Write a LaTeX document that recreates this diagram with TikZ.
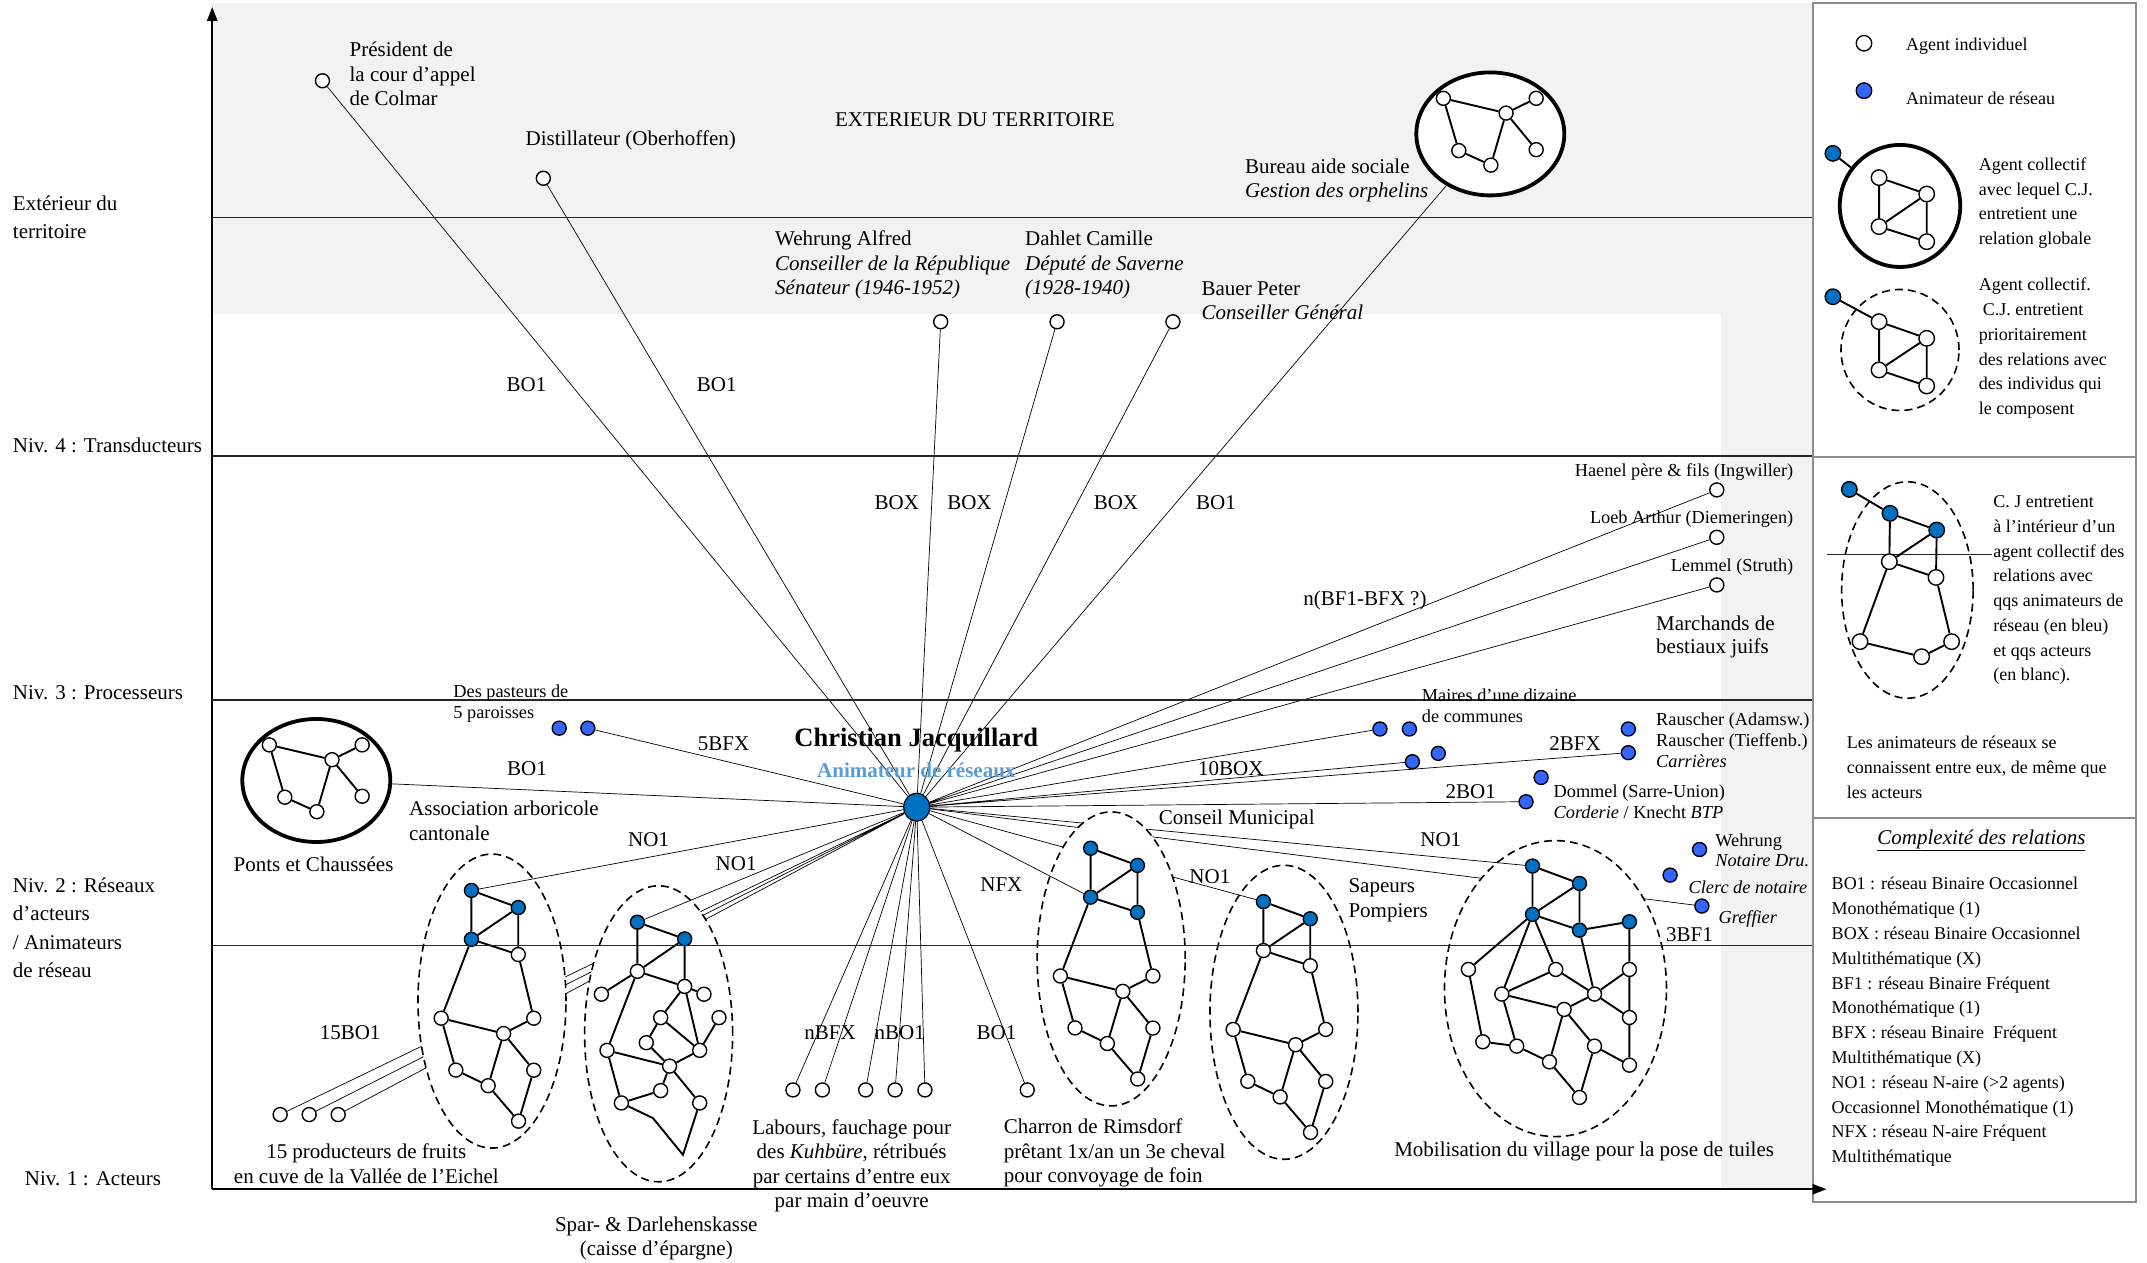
\documentclass[tikz,border=0pt]{standalone}
\usepackage{fontspec}
\setmainfont{Liberation Serif}
\usetikzlibrary{shapes.geometric, arrows.meta, positioning, calc}
\definecolor{animblue}{RGB}{0,112,192}
\definecolor{vifblue}{RGB}{51,102,255}
\definecolor{clairblue}{RGB}{91,155,213}
\definecolor{fondgris}{RGB}{242,242,242}
\definecolor{cadregris}{RGB}{140,140,140}

\tikzset{
  agent/.style={circle, draw, fill=white, line width=1.4pt, minimum size=14pt, inner sep=0pt},
  anim/.style={agent, fill=animblue},
  animvif/.style={agent, fill=vifblue},
  legsize/.style={minimum size=15.5pt},
  lien/.style={line width=0.7pt},
  arete/.style={line width=1.9pt},
  collectif/.style={ellipse, draw, fill=white, line width=1.6pt, dash pattern=on 8pt off 5pt, inner sep=0pt},
  global/.style={ellipse, draw, fill=white, line width=3.8pt, inner sep=0pt},
  niveau/.style={line width=1.1pt, black!85},
  txt/.style={font=\fontsize{21}{24.5}\selectfont, inner sep=0pt, align=left},
  ptxt/.style={font=\fontsize{18.3}{21}\selectfont, inner sep=0pt, align=left},
  leg/.style={font=\fontsize{18}{24.8}\selectfont, inner sep=0pt, align=left},
  niv/.style={font=\fontsize{21}{28.5}\selectfont, inner sep=0pt, align=left, anchor=west},
}

% reseau d'acteurs (meme dessin pour chaque collectif)
\newcommand{\reseau}[4]{%
  \begin{scope}[shift={#2}]
    \node[collectif, minimum width=148pt, minimum height=294pt] (#1) at (15,80.8) {};
    \node[anim] (#1b1) at (0,0) {};
    \node[anim] (#1b2) at (34.2,12.5) {};
    \node[agent, fill=#3] (#1b3) at (0,35.7) {};
    \node[agent, fill=#4] (#1w1) at (34.2,46.8) {};
    \node[agent] (#1w2) at (-22.1,93.3) {};
    \node[agent] (#1w3) at (45.5,93.3) {};
    \node[agent] (#1w4) at (23.5,104.5) {};
    \node[agent] (#1w5) at (-11.4,131.2) {};
    \node[agent] (#1w6) at (12.2,142.6) {};
    \node[agent] (#1w7) at (45.5,131.3) {};
    \node[agent] (#1w8) at (34.4,168.5) {};
    \draw[arete] (#1b1) -- (#1b2) (#1b1) -- (#1b3) (#1b2) -- (#1b3) (#1b2) -- (#1w1)
      (#1b3) -- (#1w1) (#1b3) -- (#1w2) (#1w1) -- (#1w3) (#1w2) -- (#1w4) (#1w3) -- (#1w4)
      (#1w2) -- (#1w5) (#1w4) -- (#1w6) (#1w5) -- (#1w6) (#1w4) -- (#1w7) (#1w7) -- (#1w8)
      (#1w6) -- (#1w8);
  \end{scope}}

% agent collectif en relation globale
\newcommand{\cercleglobal}[2]{%
  \begin{scope}[shift={#2}]
    \node[global, minimum width=148pt, minimum height=123pt] (#1) at (0,0) {};
    \node[agent] (#1a) at (-34.3,-26) {};
    \node[agent] (#1b) at (33.5,-26) {};
    \node[agent] (#1c) at (11.5,-15.2) {};
    \node[agent] (#1d) at (-23,12.2) {};
    \node[agent] (#1e) at (0.4,22.8) {};
    \node[agent] (#1f) at (33.5,11.5) {};
    \draw[arete] (#1a) -- (#1c) -- (#1b) (#1a) -- (#1d) -- (#1e) -- (#1c) -- (#1f);
  \end{scope}}

\begin{document}
\begin{tikzpicture}[x=1.3693pt, y=-1.3693pt]
\useasboundingbox (0,0) rectangle (1568,922);

% fonds
\fill[fondgris] (155,2) rectangle (1323,229.5);
\fill[fondgris] (1257,229.5) rectangle (1323,868.5);

% cadre de la legende
\draw[cadregris, line width=2pt] (1324,2) rectangle (1560,877.5);
\draw[cadregris, line width=2pt] (1324,333.5) -- (1560,333.5);
\draw[cadregris, line width=2pt] (1324,597.5) -- (1560,597.5);

% axes
\coordinate (origine) at (155,868.5);
\coordinate (axehaut) at (155,5);
\coordinate (axedroit) at (1334,868.5);
\draw[line width=2.4pt, -{Triangle[length=14pt,width=10pt]}] (origine) -- (axehaut);
\draw[line width=2.4pt, -{Triangle[length=14pt,width=10pt]}] (origine) -- (axedroit);

% animateur central
\node[ellipse, draw, fill=animblue, line width=1.2pt, minimum width=26pt, minimum height=28pt, inner sep=0pt] (cj) at (669.5,589.5) {};

% agents individuels
\node[agent] (pres) at (235.5,59) {};
\node[agent] (dist) at (396.8,130.2) {};
\node[agent] (wehr) at (687,235) {};
\node[agent] (dahl) at (772,235) {};
\node[agent] (baue) at (856.6,235) {};
\node[agent] (haen) at (1253.8,357.8) {};
\node[agent] (loeb) at (1253.8,392.4) {};
\node[agent] (lemm) at (1253.8,427.2) {};
\node[agent] (prod1) at (204.6,814) {};
\node[agent] (prod2) at (225.8,814) {};
\node[agent] (prod3) at (247,814) {};
\node[agent] (lab1) at (579.1,796) {};
\node[agent] (lab2) at (600.6,796) {};
\node[agent] (lab3) at (632.2,796) {};
\node[agent] (lab4) at (653.7,796) {};
\node[agent] (lab5) at (675.5,796) {};
\node[agent] (char) at (750.2,796) {};

% animateurs isoles
\node[animvif] (past1) at (408.4,531.8) {};
\node[animvif] (past2) at (429.3,531.8) {};
\node[animvif] (mair1) at (1007.8,532.4) {};
\node[animvif] (mair2) at (1029.3,532.4) {};
\node[animvif] (mair3) at (1031.5,556.3) {};
\node[animvif] (mair4) at (1050.4,550.2) {};
\node[animvif] (raus1) at (1189.2,532.4) {};
\node[animvif] (raus2) at (1189.2,549.7) {};
\node[animvif] (domm1) at (1125.5,567.8) {};
\node[animvif] (domm2) at (1114.5,585.5) {};
\node[animvif] (notr) at (1241.2,620.4) {};
\node[animvif] (clerc) at (1219.7,639.1) {};
\node[animvif] (gref) at (1242.9,661.7) {};

% collectifs en relation globale
\cercleglobal{ponts}{(231,570)}
\cercleglobal{bureau}{(1088.4,97.8)}

% liens de C.J.
\draw[lien] (cj) -- (pres) (cj) -- (dist) (cj) -- (wehr) (cj) -- (dahl) (cj) -- (baue) (cj) -- (bureau);
\draw[lien] (cj) -- (haen) (cj) -- (loeb) (cj) -- (lemm);
\draw[lien] (cj) -- (past2) (cj) -- (ponts);
\draw[lien] (cj) -- (mair1) (cj) -- (mair3) (cj) -- (raus2) (cj) -- (domm2) (cj) -- (gref);
\draw[lien] (cj) -- (prod1) (cj) -- (prod2) (cj) -- (prod3);
\draw[lien] (cj) -- (lab1) (cj) -- (lab2) (cj) -- (lab3) (cj) -- (lab4) (cj) -- (lab5) (cj) -- (char);

% Mobilisation du village
\node[collectif, minimum width=222pt, minimum height=296pt] (mobil) at (1136,722) {};
\node[anim] (mob1) at (1119.2,632.5) {};
\node[anim] (mob2) at (1153.5,645.2) {};
\node[anim] (mob3) at (1119.2,667.8) {};
\node[anim] (mob4) at (1153.5,679.3) {};
\node[anim] (mob5) at (1190,673.2) {};
\node[agent] (mobn1) at (1072.4,708) {};
\node[agent] (mobn2) at (1136.2,708) {};
\node[agent] (mobn3) at (1190,708) {};
\node[agent] (mobn4) at (1096.8,726) {};
\node[agent] (mobn5) at (1164.5,726) {};
\node[agent] (mobn6) at (1142.3,737.2) {};
\node[agent] (mobn7) at (1190,743.1) {};
\node[agent] (mobn8) at (1082.9,760.8) {};
\node[agent] (mobn9) at (1107.7,764) {};
\node[agent] (mobn10) at (1164.5,764) {};
\node[agent] (mobn11) at (1131.6,775.5) {};
\node[agent] (mobn12) at (1190,777.9) {};
\node[agent] (mobn13) at (1153.5,801.5) {};
\draw[arete] (mob1) -- (mob2) (mob1) -- (mob3) (mob2) -- (mob3) (mob2) -- (mob4) (mob3) -- (mob4)
  (mob4) -- (mob5) (mob3) -- (mobn1) (mob3) -- (mobn4) (mob3) -- (mobn2) (mob4) -- (mobn5)
  (mob5) -- (mobn3) (mobn1) -- (mobn8) (mobn4) -- (mobn2) (mobn2) -- (mobn5) (mobn4) -- (mobn6)
  (mobn6) -- (mobn5) (mobn5) -- (mobn3) (mobn5) -- (mobn7) (mobn3) -- (mobn7) (mobn4) -- (mobn9)
  (mobn8) -- (mobn9) (mobn9) -- (mobn11) (mobn6) -- (mobn11) (mobn6) -- (mobn10)
  (mobn10) -- (mobn12) (mobn10) -- (mobn13) (mobn11) -- (mobn13) (mobn7) -- (mobn12);

% Sapeurs Pompiers
\reseau{sapeurs}{(922.7,658.5)}{white}{white}

% Spar- & Darlehenskasse
\node[collectif, minimum width=148pt, minimum height=296pt] (spar) at (481,755) {};
\node[anim] (spar1) at (465.5,673.5) {};
\node[anim] (spar2) at (500,685.7) {};
\node[agent] (spar3) at (465.5,709.4) {};
\node[agent] (spar4) at (500,720.4) {};
\node[agent] (spar5) at (439.2,726.1) {};
\node[agent] (spar6) at (514.1,726.1) {};
\node[agent] (spar7) at (482.5,743.2) {};
\node[agent] (spar8) at (525.1,743.2) {};
\node[agent] (spar9) at (472,761.5) {};
\node[agent] (spar10) at (443.3,767.1) {};
\node[agent] (spar11) at (511,767.1) {};
\node[agent] (spar12) at (489,778.6) {};
\node[agent] (spar13) at (482.5,796.5) {};
\node[agent] (spar14) at (453.8,805.5) {};
\node[agent] (spar15) at (511,805.5) {};
\coordinate (sparpli) at (476.9,816.6);
\coordinate (sparbas) at (498.8,843.4);
\draw[arete] (spar1) -- (spar2) (spar1) -- (spar3) (spar2) -- (spar3) (spar2) -- (spar4) (spar3) -- (spar4)
  (spar3) -- (spar5) (spar3) -- (spar10) (spar4) -- (spar6) (spar4) -- (spar7) (spar4) -- (spar11)
  (spar7) -- (spar9) (spar7) -- (spar11) (spar8) -- (spar11) (spar9) -- (spar12) (spar10) -- (spar12)
  (spar11) -- (spar12) (spar12) -- (spar13) (spar12) -- (spar15) (spar10) -- (spar14) (spar14) -- (spar13)
  (spar14) -- (sparpli) -- (sparbas) -- (spar15);

% Association arboricole
\reseau{asso}{(344.3,650.3)}{animblue}{white}

\draw[lien] (cj) -- (mob1) (cj) -- (sapeursb1) (cj) -- (spar1) (cj) -- (assob1);

% Conseil Municipal
\reseau{conseil}{(796.5,619.5)}{animblue}{animblue}
\draw[lien] (cj) -- (conseilb3);

% niveaux
\draw[niveau] (155,158.8) -- (1323,158.8);
\draw[niveau] (155,333) -- (1323,333);
\draw[niveau] (155,511.2) -- (1323,511.2);
\draw[niveau] (155,690.4) -- (1323,690.4);

% textes de l'axe
\node[niv] (extlab) at (9.3,158.8) {Extérieur du\\territoire};
\node[niv] (niv4) at (9.3,325) {Niv. 4 : Transducteurs};
\node[niv] (niv3) at (9.3,506) {Niv. 3 : Processeurs};
\node[niv] (niv2) at (9.3,677.5) {Niv. 2 : Réseaux\\d’acteurs\\/ Animateurs\\de réseau};
\node[niv] (niv1) at (18,861) {Niv. 1 : Acteurs};

% textes du haut
\node[txt, anchor=west] (tpres) at (255.2,54) {Président de\\la cour d’appel\\de Colmar};
\node[txt, anchor=west] (tdist) at (383.8,102.7) {Distillateur (Oberhoffen)};
\node[txt] (text) at (712,87.6) {EXTERIEUR DU TERRITOIRE};
\node[txt, anchor=west] (tbur) at (909.2,131.9) {Bureau aide sociale\\\textit{Gestion des orphelins}};
\node[txt, anchor=west] (twehr) at (566,193.5) {Wehrung Alfred\\\textit{Conseiller de la République}\\\textit{Sénateur (1946-1952)}};
\node[txt, anchor=west] (tdahl) at (748.5,193.5) {Dahlet Camille\\\textit{Député de Saverne}\\\textit{(1928-1940)}};
\node[txt, anchor=west] (tbaue) at (877.4,219.5) {Bauer Peter\\\textit{Conseiller Général}};
\node[txt] at (384.5,281.2) {BO1};
\node[txt] at (523.5,281.2) {BO1};
\node[txt] at (655,367) {BOX};
\node[txt] at (708,367) {BOX};
\node[txt] at (815,367) {BOX};
\node[txt] at (888,367) {BO1};

% marchands
\node[ptxt, anchor=east] (thaen) at (1309.8,344.4) {Haenel père \& fils (Ingwiller)};
\node[ptxt, anchor=east] (tloeb) at (1309.8,379.3) {Loeb Arthur (Diemeringen)};
\node[ptxt, anchor=east] (tlemm) at (1309.8,413.8) {Lemmel (Struth)};
\node[txt, anchor=west, font=\fontsize{21}{23.4}\selectfont] (tmarch) at (1209.4,465) {Marchands de\\bestiaux juifs};
\node[txt, anchor=west] at (951.8,438.2) {n(BF1-BFX ?)};

% C.J.
\node[font=\bfseries\fontsize{26.5}{30}\selectfont, inner sep=0pt] (nomcj) at (669.2,540.5) {Christian Jacquillard};
\node[font=\bfseries\fontsize{21}{24}\selectfont, text=clairblue, inner sep=0pt] (rolecj) at (669.2,562.5) {Animateur de réseaux};

% niveau 3 et 2, gauche
\node[ptxt, anchor=west, font=\fontsize{18.3}{21.5}\selectfont] (tpast) at (331,514) {Des pasteurs de\\5 paroisses};
\node[txt] at (528.5,543) {5BFX};
\node[txt] at (384.9,561) {BO1};
\node[txt, anchor=west] (tasso) at (298.7,599.5) {Association arboricole\\cantonale};
\node[txt] (tponts) at (229,631) {Ponts et Chaussées};
\node[txt] at (473.7,613.3) {NO1};
\node[txt] at (537.6,630.7) {NO1};
\node[txt] at (255.7,753.8) {15BO1};
\node[txt, align=center] (tprod) at (267.5,850) {15 producteurs de fruits\\en cuve de la Vallée de l’Eichel};
\node[txt, align=center] (tspar) at (479.3,904.5) {Spar- \& Darlehenskasse\\(caisse d’épargne)};

% niveau 1, centre
\node[txt] at (606.2,754.2) {nBFX};
\node[txt] at (657.1,754.2) {nBO1};
\node[txt] at (727.8,754.2) {BO1};
\node[txt, align=center] (tlab) at (622,851.6) {Labours, fauchage pour\\des \textit{Kuhbüre}, rétribués\\par certains d’entre eux\\par main d’oeuvre};
\node[txt, anchor=west] (tchar) at (733,842.1) {Charron de Rimsdorf\\prêtant 1x/an un 3e cheval\\pour convoyage de foin};

% droite
\node[txt] at (731.3,645.7) {NFX};
\node[txt] (tcons) at (903.2,598.5) {Conseil Municipal};
\node[txt] at (883.6,639.9) {NO1};
\node[txt, anchor=west] (tsap) at (984.7,657.6) {Sapeurs\\Pompiers};
\node[txt] at (898.9,561.2) {10BOX};
\node[ptxt, anchor=west, font=\fontsize{18.3}{20.5}\selectfont] (tmair) at (1038.3,515.5) {Maires d’une dizaine\\de communes};
\node[txt] at (1150.3,543.4) {2BFX};
\node[ptxt, anchor=west] (traus) at (1209.4,540.4) {Rauscher (Adamsw.)\\Rauscher (Tieffenb.)\\\textit{Carrières}};
\node[txt] at (1074.1,578.2) {2BO1};
\node[ptxt, anchor=west] (tdomm) at (1134.5,585.4) {Dommel (Sarre-Union)\\\textit{Corderie} / Knecht \textit{BTP}};
\node[txt] at (1052.2,613.5) {NO1};
\node[ptxt, anchor=west, font=\fontsize{18.3}{20}\selectfont] (tnotr) at (1252.6,620.8) {Wehrung\\\textit{Notaire Dru.}};
\node[ptxt, anchor=east] (tclerc) at (1320,648) {\textit{Clerc de notaire}};
\node[ptxt, anchor=west] (tgref) at (1255,671.5) {\textit{Greffier}};
\node[txt] at (1233.9,682.9) {3BF1};
\node[txt] (tmob) at (1156.9,841.2) {Mobilisation du village pour la pose de tuiles};

% legende 1
\node[agent, legsize] (legA) at (1361.3,31.6) {};
\node[leg, anchor=west] at (1392,33.6) {Agent individuel};
\node[animvif, legsize] (legB) at (1361.3,66.2) {};
\node[leg, anchor=west] at (1392,71.8) {Animateur de réseau};

\node[global, minimum width=120.5pt, minimum height=122pt] (legcercle) at (1387.6,150.4) {};
\node[anim, legsize] (legG0) at (1338.6,112) {};
\node[agent, legsize] (legG1) at (1372.3,129.7) {};
\node[agent, legsize] (legG2) at (1407.1,141.7) {};
\node[agent, legsize] (legG3) at (1372.3,165.5) {};
\node[agent, legsize] (legG4) at (1407.1,176.5) {};
\draw[arete] (legG0) -- (legcercle);
\draw[arete] (legG1) -- (legG2) (legG1) -- (legG3) (legG2) -- (legG3) (legG2) -- (legG4) (legG3) -- (legG4);
\node[leg, anchor=west] at (1445.1,148.4) {Agent collectif\\avec lequel C.J.\\entretient une\\relation globale};

\node[collectif, minimum width=118pt, minimum height=121pt] (legpointille) at (1387.6,255.6) {};
\node[anim, legsize] (legD0) at (1338.6,216.7) {};
\node[agent, legsize] (legD1) at (1372.3,234.9) {};
\node[agent, legsize] (legD2) at (1407.1,247.1) {};
\node[agent, legsize] (legD3) at (1372.3,270.2) {};
\node[agent, legsize] (legD4) at (1407.1,281.9) {};
\draw[arete] (legD0) -- (legD1) (legD1) -- (legD2) (legD1) -- (legD3) (legD2) -- (legD3) (legD2) -- (legD4) (legD3) -- (legD4);
\node[leg, anchor=west] at (1445.1,254.4) {Agent collectif.\\\hspace{4pt}C.J. entretient\\prioritairement\\des relations avec\\des individus qui\\le composent};

% legende 2
\node[collectif, minimum width=131.5pt, minimum height=216.4pt] (legell) at (1393,430.9) {};
\draw[niveau] (1334,404.8) -- (1454.5,404.8);
\node[anim, legsize] (legE0) at (1350.6,357.4) {};
\node[anim, legsize] (legE1) at (1380.3,374.9) {};
\node[anim, legsize] (legE2) at (1414.4,387.1) {};
\node[agent, legsize] (legE3) at (1379.8,410.2) {};
\node[agent, legsize] (legE4) at (1413.9,421.7) {};
\node[agent, legsize] (legE5) at (1358.4,468.6) {};
\node[agent, legsize] (legE6) at (1403.4,479.6) {};
\node[agent, legsize] (legE7) at (1425.3,468.6) {};
\draw[arete] (legE0) -- (legE1) (legE1) -- (legE2) (legE1) -- (legE3) (legE2) -- (legE3) (legE2) -- (legE4)
  (legE3) -- (legE4) (legE3) -- (legE5) (legE4) -- (legE7) (legE5) -- (legE6) (legE6) -- (legE7);
\node[leg, anchor=west] at (1455.7,431) {C. J entretient\\à l’intérieur d’un\\agent collectif des\\relations avec\\qqs animateurs de\\réseau (en bleu)\\et qqs acteurs\\(en blanc).};
\node[leg, anchor=west] at (1348.6,560.5) {Les animateurs de réseaux se\\connaissent entre eux, de même que\\les acteurs};

% legende 3
\node[txt] at (1447.1,614) {\underline{\textit{Complexité des relations}}};
\node[leg, anchor=west] at (1337.6,746.4) {BO1 : réseau Binaire Occasionnel\\Monothématique (1)\\BOX : réseau Binaire Occasionnel\\Multithématique (X)\\BF1 : réseau Binaire Fréquent\\Monothématique (1)\\BFX : réseau Binaire\ \ Fréquent\\Multithématique (X)\\NO1 : réseau N-aire (>2 agents)\\Occasionnel Monothématique (1)\\NFX : réseau N-aire Fréquent\\Multithématique};
\end{tikzpicture}
\end{document}
